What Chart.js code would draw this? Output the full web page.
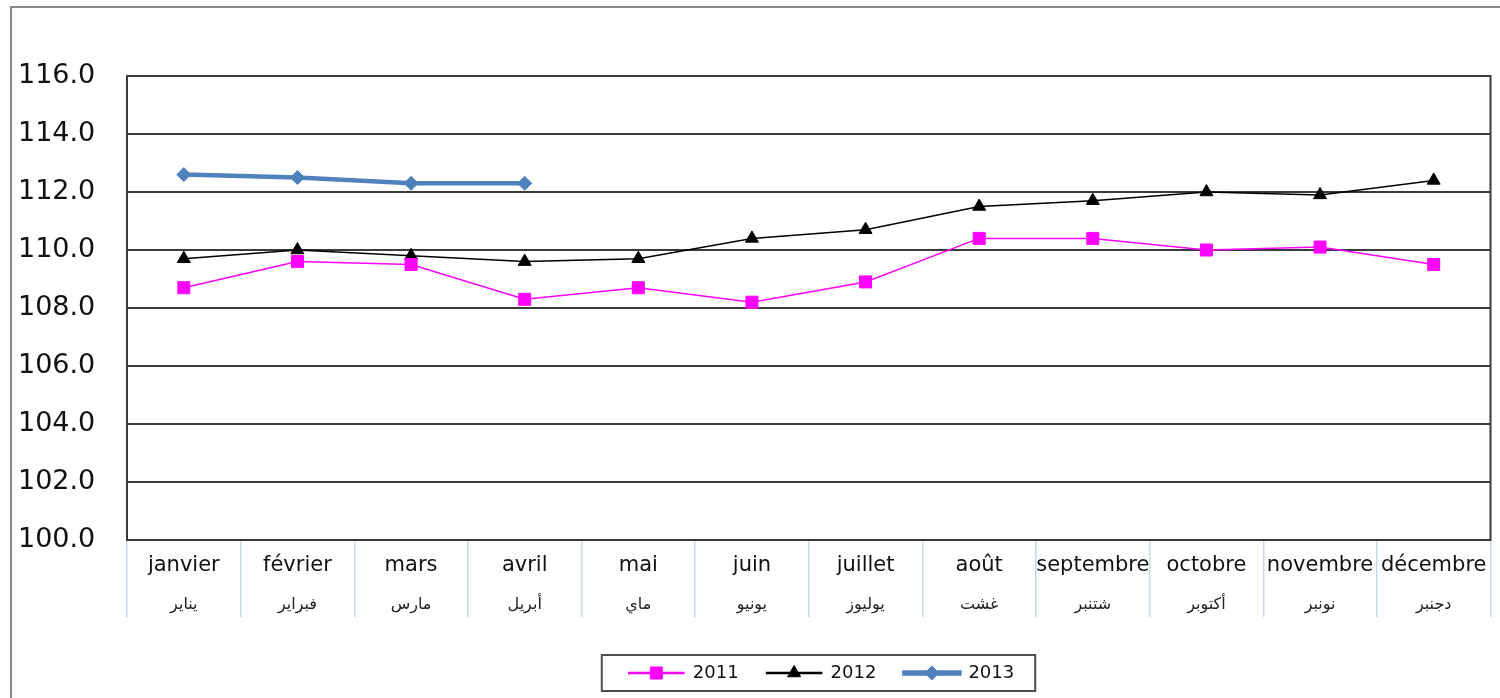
<!DOCTYPE html>
<html>
<head>
<meta charset="utf-8">
<title>Indice 2011-2013</title>
<script src="https://cdn.jsdelivr.net/npm/chart.js@4.4.1/dist/chart.umd.min.js"></script>
<style>
  html, body { margin: 0; padding: 0; background: #fff; }
  #wrap { position: relative; width: 1500px; height: 698px; overflow: hidden; }
  #frame {
    position: absolute; left: 10px; top: 6px; width: 1600px; height: 800px;
    border-left: 2px solid #8a8a8a; border-top: 2px solid #8a8a8a;
  }
  #chart { position: absolute; left: 0; top: 0; }
</style>
</head>
<body>
<div id="wrap">
  <div id="frame"></div>
  <canvas id="chart" width="1500" height="698"></canvas>
</div>
<script>
// month labels, French on the first row, Arabic below
const monthsFr = ["janvier", "février", "mars", "avril", "mai", "juin",
    "juillet", "août", "septembre", "octobre", "novembre", "décembre"];
const monthsAr = ["يناير", "فبراير", "مارس", "أبريل", "ماي", "يونيو",
    "يوليوز", "غشت", "شتنبر", "أكتوبر", "نونبر", "دجنبر"];

const values2011 = [108.7, 109.6, 109.5, 108.3, 108.7, 108.2, 108.9, 110.4, 110.4, 110.0, 110.1, 109.5];
const values2012 = [109.7, 110.0, 109.8, 109.6, 109.7, 110.4, 110.7, 111.5, 111.7, 112.0, 111.9, 112.4];
const values2013 = [112.6, 112.5, 112.3, 112.3, null, null, null, null, null, null, null, null];

const yMin = 100;
const yMax = 116;
const yStep = 2;

const FONT = "'DejaVu Sans', 'Liberation Sans', sans-serif";

// frame round the plot area
const plotFrame = {
    id: "plotFrame",
    beforeDatasetsDraw(chart) {
        const { ctx, chartArea: a } = chart;
        ctx.save();
        ctx.strokeStyle = "#3a3a3a";
        ctx.lineWidth = 2;
        ctx.strokeRect(a.left, a.top, a.right - a.left, a.bottom - a.top);
        ctx.restore();
    },
};

// Excel style legend: line with the marker on it, boxed
const legendMarkers = {
    id: "legendMarkers",
    afterLayout(chart) {
        chart.legend.left += 67;
        chart.legend.right += 67;
    },
    afterDraw(chart) {
        const legend = chart.legend;
        const boxes = legend.legendHitBoxes;
        if (!boxes || !boxes.length) return;
        const ctx = chart.ctx;
        const boxW = legend.options.labels.boxWidth;
        ctx.save();
        boxes.forEach((hb, i) => {
            const ds = chart.data.datasets[i];
            ctx.fillStyle = ds.pointBackgroundColor;
            ctx.strokeStyle = ds.pointBorderColor;
            ctx.lineWidth = 1;
            Chart.helpers.drawPoint(ctx, {
                pointStyle: ds.pointStyle,
                radius: ds.pointRadius,
                rotation: 0,
                borderWidth: 1,
            }, hb.left + boxW / 2, hb.top + hb.height / 2);
        });
        const first = boxes[0];
        const last = boxes[boxes.length - 1];
        const cy = first.top + first.height / 2;
        ctx.strokeStyle = "#4d4d4d";
        ctx.lineWidth = 2;
        ctx.strokeRect(first.left - 27, cy - 18, last.left + last.width + 21 - (first.left - 27), 36);
        ctx.restore();
    },
};

new Chart(document.getElementById("chart"), {
    type: "line",
    data: {
        labels: monthsFr,
        datasets: [
            {
                label: "2011",
                data: values2011,
                borderColor: "#ff00ff",
                backgroundColor: "#ff00ff",
                borderWidth: 1.5,
                pointStyle: "rect",
                pointRadius: 8.5,
                pointBackgroundColor: "#ff00ff",
                pointBorderColor: "#ff00ff",
                pointBorderWidth: 1,
                tension: 0,
            },
            {
                label: "2012",
                data: values2012,
                borderColor: "#000000",
                backgroundColor: "#000000",
                borderWidth: 1.5,
                pointStyle: "triangle",
                pointRadius: 7.5,
                pointBackgroundColor: "#000000",
                pointBorderColor: "#000000",
                pointBorderWidth: 1,
                tension: 0,
            },
            {
                label: "2013",
                data: values2013,
                borderColor: "#4f81bd",
                backgroundColor: "#4f81bd",
                borderWidth: 4.5,
                pointStyle: "rectRot",
                pointRadius: 7,
                pointBackgroundColor: "#4f81bd",
                pointBorderColor: "#4f81bd",
                pointBorderWidth: 1,
                tension: 0,
                spanGaps: false,
            },
        ],
    },
    options: {
        responsive: false,
        animation: false,
        layout: {
            padding: { top: 76, left: 18, right: 9, bottom: 6 },
        },
        plugins: {
            tooltip: { enabled: false },
            legend: {
                position: "bottom",
                labels: {
                    boxWidth: 55,
                    boxHeight: 1,
                    padding: 28,
                    color: "#111111",
                    font: { size: 18, family: FONT },
                },
            },
        },
        scales: {
            y: {
                min: yMin,
                max: yMax,
                afterFit(scale) { scale.width = 109; },
                ticks: {
                    stepSize: yStep,
                    crossAlign: "far",
                    color: "#111111",
                    font: { size: 27, family: FONT },
                    callback: (v) => Number(v).toFixed(1),
                },
                grid: { color: "#3a3a3a", lineWidth: 2, drawTicks: false },
                border: { color: "#3a3a3a", width: 2 },
            },
            x: {
                type: "category",
                offset: true,
                weight: 0,
                afterFit(scale) { scale.height = 44; },
                ticks: {
                    autoSkip: false,
                    maxRotation: 0,
                    padding: -31,
                    color: "#111111",
                    font: { size: 21, family: FONT },
                },
                grid: {
                    offset: true,
                    drawOnChartArea: false,
                    tickLength: 44,
                    color: "#c9d7ec",
                    lineWidth: 1.5,
                },
                border: { display: false },
            },
            x2: {
                type: "category",
                position: "bottom",
                labels: monthsAr,
                offset: true,
                weight: 1,
                afterFit(scale) { scale.height = 52; },
                ticks: {
                    autoSkip: false,
                    maxRotation: 0,
                    padding: -22,
                    color: "#222222",
                    font: { size: 16, family: FONT },
                },
                grid: {
                    offset: true,
                    drawOnChartArea: false,
                    tickLength: 33,
                    color: "#c9d7ec",
                    lineWidth: 1.5,
                },
                border: { display: false },
            },
        },
    },
    plugins: [plotFrame, legendMarkers],
});
</script>
</body>
</html>
